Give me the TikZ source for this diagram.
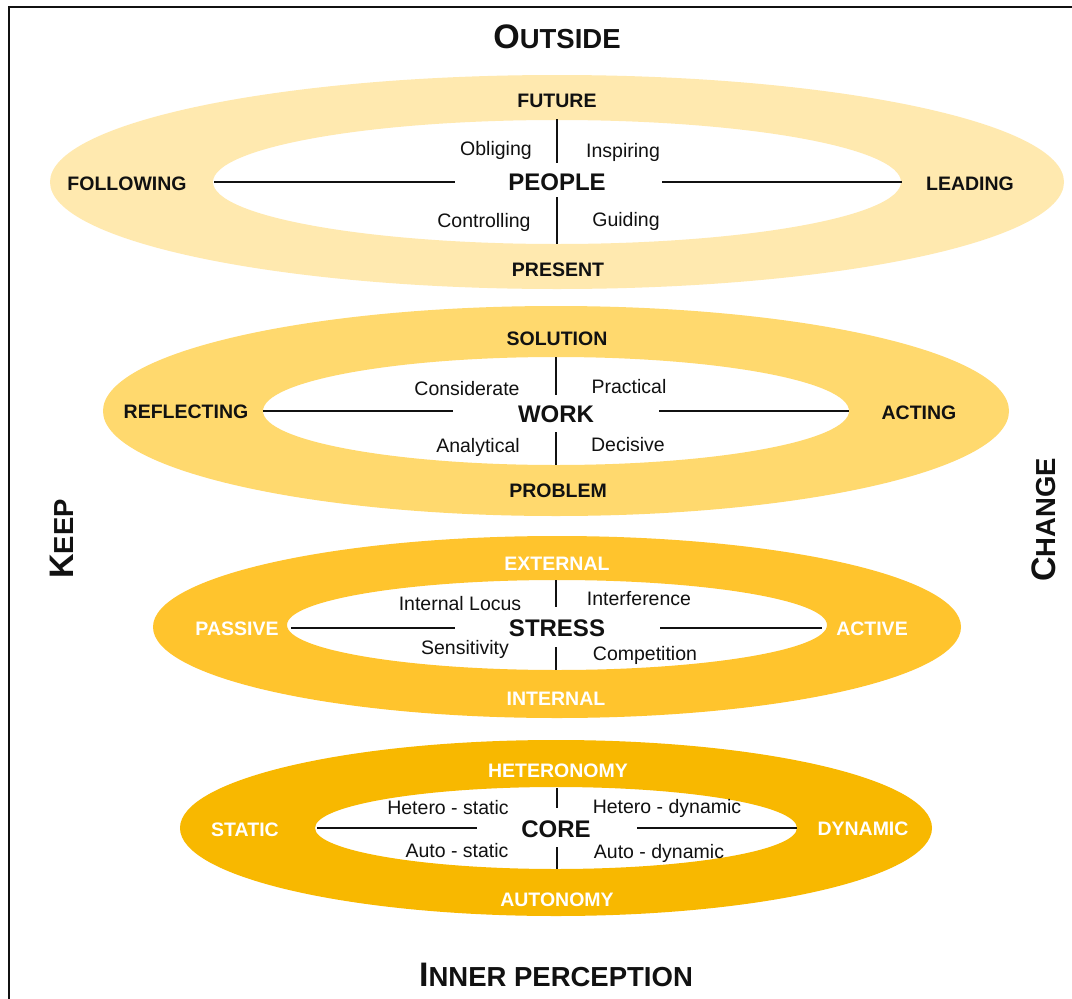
\documentclass[tikz,border=0pt]{standalone}
\usepackage{fontspec}
\setmainfont{Liberation Sans}
\usetikzlibrary{calc}

% small capitals made from reduced upper-case letters
\newcommand\ringsc[1]{{\fontsize{27.5}{30}\selectfont #1}}

\definecolor{ringA}{HTML}{FFE9AF}
\definecolor{ringB}{HTML}{FFD96E}
\definecolor{ringC}{HTML}{FFC42D}
\definecolor{ringD}{HTML}{F8B800}
\definecolor{ink}{HTML}{111111}

\begin{document}
\begin{tikzpicture}[x=1pt,y=-1pt,
  title/.style={font=\fontsize{34}{38}\selectfont\bfseries, text=ink, inner sep=0, text height=24.3pt, text depth=0pt},
  lbl/.style={font=\fontsize{19.5}{22}\selectfont\bfseries, text=ink, inner sep=0, text height=14pt, text depth=0pt},
  wlbl/.style={lbl, text=white},
  sub/.style={font=\fontsize{19.5}{22}\selectfont, text=ink, inner sep=0, text height=14pt, text depth=0pt},
  hub/.style={font=\fontsize{24}{28}\selectfont\bfseries, text=ink, inner sep=0, text height=17.2pt, text depth=0pt},
  axis/.style={line width=2pt, draw=ink},
]
\useasboundingbox (0,0) rectangle (1072,999);
\fill[white] (0,0) rectangle (1072,999);

% frame
\draw[line width=2pt, draw=ink] (9,1005) -- (9,7) -- (1080,7);

% titles
\node[title] (outside) at (557,36) {O\ringsc{UTSIDE}};
\node[title] (inner) at (556,974) {I\ringsc{NNER PERCEPTION}};
\node[title, rotate=90] (keep) at (61,539) {K\ringsc{EEP}};
\node[title, rotate=90] (change) at (1043,520) {C\ringsc{HANGE}};

% ---------- ring 1: people ----------
\fill[ringA, even odd rule] (557,182) ellipse [x radius=507pt, y radius=107pt]
                            (557,182) ellipse [x radius=344pt, y radius=62pt];
\node[hub] (people) at (557,182) {PEOPLE};
\node[lbl] (future) at (557,100) {FUTURE};
\node[lbl] (present) at (558,269) {PRESENT};
\node[lbl] (following) at (127,183) {FOLLOWING};
\node[lbl] (leading) at (970,183) {LEADING};
\node[sub] (obliging) at (496,148) {Obliging};
\node[sub] (inspiring) at (623,150) {Inspiring};
\node[sub] (controlling) at (484,220) {Controlling};
\node[sub] (guiding) at (626,219) {Guiding};
\coordinate (pw1) at (214,182); \coordinate (pw2) at (455,182);
\coordinate (pe1) at (662,182); \coordinate (pe2) at (902,182);
\coordinate (pn1) at (557,119); \coordinate (pn2) at (557,163);
\coordinate (ps1) at (557,197); \coordinate (ps2) at (557,244);
\draw[axis] (pw1) -- (pw2);
\draw[axis] (pe1) -- (pe2);
\draw[axis] (pn1) -- (pn2);
\draw[axis] (ps1) -- (ps2);

% ---------- ring 2: work ----------
\fill[ringB, even odd rule] (556,411) ellipse [x radius=453pt, y radius=105pt]
                            (556,411) ellipse [x radius=293pt, y radius=54pt];
\node[hub] (work) at (556,414) {WORK};
\node[lbl] (solution) at (557,338) {SOLUTION};
\node[lbl] (problem) at (558,490) {PROBLEM};
\node[lbl] (reflecting) at (186,411) {REFLECTING};
\node[lbl] (acting) at (919,412) {ACTING};
\node[sub] (considerate) at (467,388) {Considerate};
\node[sub] (practical) at (629,386) {Practical};
\node[sub] (analytical) at (478,445) {Analytical};
\node[sub] (decisive) at (628,444) {Decisive};
\coordinate (ww1) at (263,411); \coordinate (ww2) at (453,411);
\coordinate (we1) at (659,411); \coordinate (we2) at (849,411);
\coordinate (wn1) at (556,357); \coordinate (wn2) at (556,395);
\coordinate (ws1) at (556,432); \coordinate (ws2) at (556,465);
\draw[axis] (ww1) -- (ww2);
\draw[axis] (we1) -- (we2);
\draw[axis] (wn1) -- (wn2);
\draw[axis] (ws1) -- (ws2);

% ---------- ring 3: stress ----------
\fill[ringC, even odd rule] (557,627) ellipse [x radius=404pt, y radius=91pt]
                            (557,625) ellipse [x radius=270pt, y radius=45pt];
\node[hub] (stress) at (557,628) {STRESS};
\node[wlbl] (external) at (557,563) {EXTERNAL};
\node[wlbl] (internal) at (556,698) {INTERNAL};
\node[wlbl] (passive) at (237,628) {PASSIVE};
\node[wlbl] (active) at (872,628) {ACTIVE};
\node[sub] (locus) at (460,603) {Internal Locus};
\node[sub] (interference) at (639,598) {Interference};
\node[sub] (sensitivity) at (465,647) {Sensitivity};
\node[sub] (competition) at (645,653) {Competition};
\coordinate (sw1) at (291,628); \coordinate (sw2) at (455,628);
\coordinate (se1) at (660,628); \coordinate (se2) at (822,628);
\coordinate (sn1) at (556,580); \coordinate (sn2) at (556,607);
\coordinate (ss1) at (556,647); \coordinate (ss2) at (556,670);
\draw[axis] (sw1) -- (sw2);
\draw[axis] (se1) -- (se2);
\draw[axis] (sn1) -- (sn2);
\draw[axis] (ss1) -- (ss2);

% ---------- ring 4: core ----------
\fill[ringD, even odd rule] (556,828) ellipse [x radius=376pt, y radius=88pt]
                            (556,828) ellipse [x radius=241pt, y radius=41pt];
\node[hub] (core) at (556,829) {CORE};
\node[wlbl] (heteronomy) at (558,770) {HETERONOMY};
\node[wlbl] (autonomy) at (557,899) {AUTONOMY};
\node[wlbl] (static) at (245,829) {STATIC};
\node[wlbl] (dynamic) at (863,828) {DYNAMIC};
\node[sub] (hstatic) at (448,807) {Hetero - static};
\node[sub] (hdynamic) at (667,806) {Hetero - dynamic};
\node[sub] (astatic) at (457,850) {Auto - static};
\node[sub] (adynamic) at (659,851) {Auto - dynamic};
\coordinate (cw1) at (317,828); \coordinate (cw2) at (477,828);
\coordinate (ce1) at (637,828); \coordinate (ce2) at (797,828);
\coordinate (cn1) at (557,788); \coordinate (cn2) at (557,808);
\coordinate (cs1) at (557,847); \coordinate (cs2) at (557,869);
\draw[axis] (cw1) -- (cw2);
\draw[axis] (ce1) -- (ce2);
\draw[axis] (cn1) -- (cn2);
\draw[axis] (cs1) -- (cs2);
\end{tikzpicture}
\end{document}
